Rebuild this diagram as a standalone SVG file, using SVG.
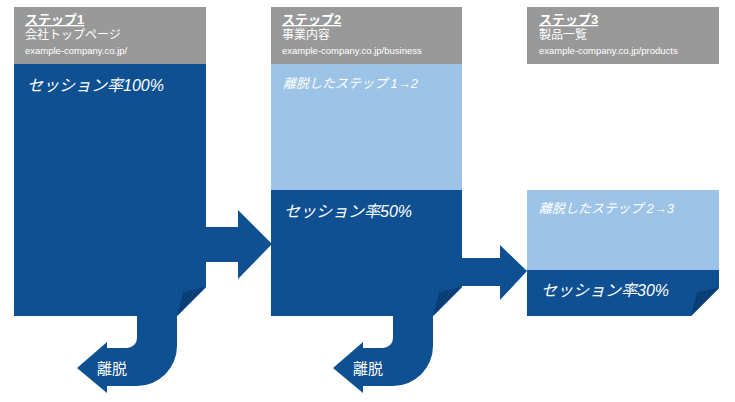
<svg xmlns="http://www.w3.org/2000/svg" width="735" height="402" viewBox="0 0 735 402">
<style>
.hd{fill:#999999}.dk{fill:#0e5092}.lt{fill:#9dc3e6}.fd{fill:#0a3f76}
text{font-family:"Liberation Sans","Noto Sans CJK JP",sans-serif;fill:#fff}
.t1{font-size:13px;font-weight:bold;text-decoration:underline}
.t2{font-size:12px}.t3{font-size:9.5px}
.big{font-size:16px;font-style:italic}.sm{font-size:13px;font-style:italic}
.lb{font-size:15px}
</style>
<g id="connectors">
<path class="dk" d="M206,227 H238 V210 L272,244 L238,279 V262 H206 Z"/>
<path class="dk" d="M462,258 H500 V245 L527,271 L500,300 V286 H462 Z"/>
<path class="dk" d="M137,316 H177 V346 A40,40 0 0 1 137,386 H107 V393 L77,368 L107,342 V348 H127 A10,10 0 0 0 137,338 Z"/>
<text class="lb" x="97" y="374">離脱</text>
<path class="dk" d="M393,316 H433 V346 A40,40 0 0 1 393,386 H363 V393 L333,368 L363,342 V348 H383 A10,10 0 0 0 393,338 Z"/>
<text class="lb" x="353" y="374">離脱</text>
</g>
<g id="step1">
<rect class="hd" x="14" y="7" width="192" height="57"/>
<text class="t1" x="25" y="24">ステップ1</text>
<text class="t2" x="25" y="39">会社トップページ</text>
<text class="t3" x="25" y="54">example-company.co.jp/</text>
<path class="dk" d="M14,64 H206 V287 L177,316 H14 Z"/>
<path class="fd" d="M206,287 L183,292 L177,316 Z"/>
<text class="big" x="27" y="91">セッション率100%</text>
</g>
<g id="step2">
<rect class="hd" x="271" y="7" width="191" height="57"/>
<text class="t1" x="282" y="24">ステップ2</text>
<text class="t2" x="282" y="39">事業内容</text>
<text class="t3" x="282" y="54">example-company.co.jp/business</text>
<rect class="lt" x="271" y="64" width="191" height="126"/>
<text class="sm" x="283" y="88">離脱したステップ 1→2</text>
<path class="dk" d="M271,190 H462 V287 L433,316 H271 Z"/>
<path class="fd" d="M462,287 L439,292 L433,316 Z"/>
<text class="big" x="284" y="217">セッション率50%</text>
</g>
<g id="step3">
<rect class="hd" x="527" y="7" width="192" height="57"/>
<text class="t1" x="539" y="24">ステップ3</text>
<text class="t2" x="539" y="39">製品一覧</text>
<text class="t3" x="539" y="54">example-company.co.jp/products</text>
<rect class="lt" x="527" y="190" width="192" height="80"/>
<text class="sm" x="539" y="213">離脱したステップ 2→3</text>
<path class="dk" d="M527,270 H719 V288 L691,316 H527 Z"/>
<path class="fd" d="M719,288 L697,292 L691,316 Z"/>
<text class="big" x="541" y="296">セッション率30%</text>
</g>
</svg>
